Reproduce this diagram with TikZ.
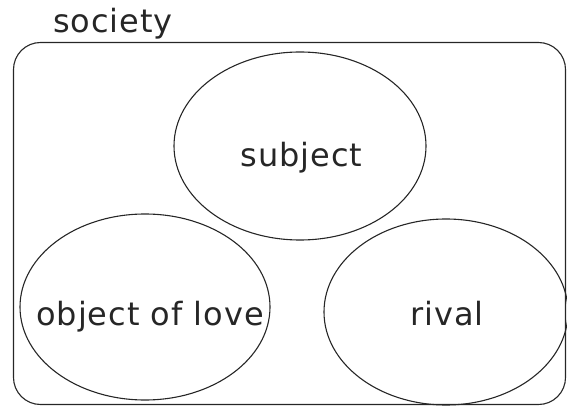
\documentclass[tikz,border=0pt]{standalone}
\usepackage{fontspec}
\setmainfont{DejaVu Sans}[LetterSpace=3]
\usetikzlibrary{shapes.geometric}
\begin{document}
\begin{tikzpicture}[x=1pt,y=-1pt,
  ln/.style={draw=black!85,line width=1.1pt},
  oval/.style={ln,ellipse,inner sep=0pt},
  lbl/.style={anchor=base,inner sep=0pt,text=black!85,font=\fontsize{32}{36}\selectfont}]
\useasboundingbox (0,0) rectangle (567,406);
\node[ln,rectangle,rounded corners=27pt,minimum width=552pt,minimum height=362pt,inner sep=0pt] (soc) at (289.5,223.5) {};
\node[lbl] (soclbl) at (113,33) {society};
\node[oval,minimum width=252pt,minimum height=188pt] (subj) at (300,146) {};
\node[oval,minimum width=250pt,minimum height=186pt] (obj) at (145,307) {};
\node[oval,minimum width=244pt,minimum height=186pt] (riv) at (446,312) {};
\node[lbl] (subjlbl) at (301.5,167) {subject};
\node[lbl] (objlbl) at (150,325) {object of love};
\node[lbl] (rivlbl) at (447,325) {rival};
\end{tikzpicture}
\end{document}
